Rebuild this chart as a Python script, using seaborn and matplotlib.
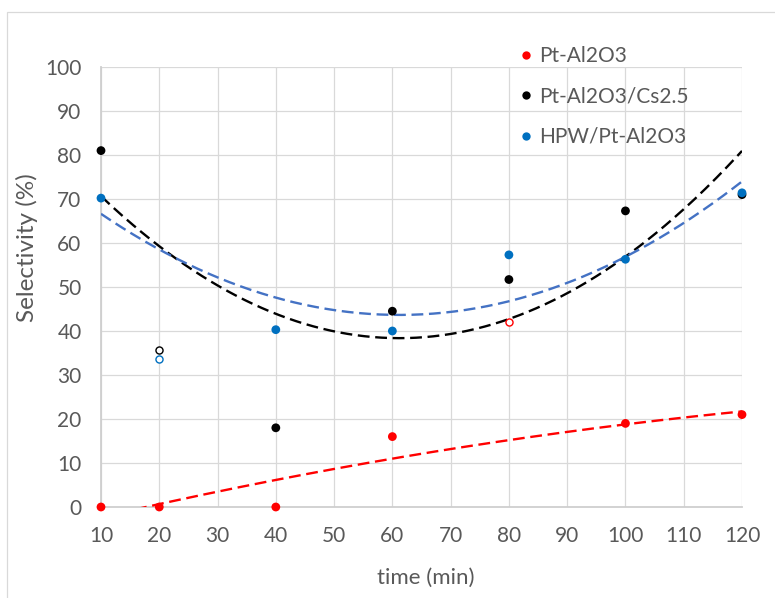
import numpy as np
import pandas as pd
import matplotlib
matplotlib.use("Agg")
import matplotlib.pyplot as plt
from matplotlib.lines import Line2D
from matplotlib.patches import Rectangle
import seaborn as sns

# ---- data -------------------------------------------------------------
series_names = ["Pt-Al2O3", "Pt-Al2O3/Cs2.5", "HPW/Pt-Al2O3"]
time_min = [10, 20, 40, 60, 80, 100, 120]

sel_pt = [0, 0, 0, 16, 42.1, 19, 21]
sel_pt_cs = [81, 35.7, 18, 44.5, 51.7, 67.3, 71]
sel_hpw = [70.2, 33.6, 40.3, 40, 57.3, 56.3, 71.4]

# points left out of the trend fit (drawn hollow)
excluded_pt = [80]
excluded_pt_cs = [20]
excluded_hpw = [20]

marker_colors = ["#FF0000", "#000000", "#0070C0"]
trend_colors = ["#FF0000", "#000000", "#4472C4"]

x_ticks = list(range(10, 121, 10))
y_ticks = list(range(0, 101, 10))

# ---- tidy table -------------------------------------------------------
rows = []
for name, vals, excl in zip(series_names,
                            [sel_pt, sel_pt_cs, sel_hpw],
                            [excluded_pt, excluded_pt_cs, excluded_hpw]):
    for t, v in zip(time_min, vals):
        rows.append({"time": t, "sel": v, "series": name,
                     "used": t not in excl})
df = pd.DataFrame(rows)

# second-order polynomial trend lines through the used points
trend_rows = []
xs = np.linspace(10, 120, 300)
for name in series_names:
    sub = df[(df.series == name) & df.used]
    coef = np.polyfit(sub.time, sub.sel, 2)
    for xv, yv in zip(xs, np.polyval(coef, xs)):
        trend_rows.append({"time": xv, "sel": yv, "series": name})
trend = pd.DataFrame(trend_rows)

# ---- figure -----------------------------------------------------------
sns.set_theme(style="white")
plt.rcParams["font.family"] = ["Lato", "DejaVu Sans"]
text_color = "#595959"

fig = plt.figure(figsize=(7.75, 5.98), dpi=100)
ax = fig.add_axes([101 / 775, 1 - 507 / 598, 641 / 775, 440 / 598])

# chart border
fig.patches.append(Rectangle((7 / 775, -0.1), 2.0, 1 - 12 / 598 + 0.1,
                             transform=fig.transFigure, fill=False,
                             edgecolor="#D9D9D9", lw=0.9, zorder=0))

for name, col in zip(series_names, trend_colors):
    sns.lineplot(data=trend[trend.series == name], x="time", y="sel",
                 color=col, lw=1.7, dashes=(5, 2.4), ax=ax,
                 legend=False, zorder=3)

solid = df[df.used]
sns.scatterplot(data=solid, x="time", y="sel", hue="series",
                hue_order=series_names, palette=marker_colors,
                s=40, edgecolor="none", linewidth=0, ax=ax,
                clip_on=False, zorder=4, legend=False)

hollow = df[~df.used]
for name, col in zip(series_names, marker_colors):
    h = hollow[hollow.series == name]
    ax.scatter(h.time, h.sel, s=26, facecolors="white", edgecolors=col,
               linewidths=1.0, clip_on=False, zorder=4)

ax.set_xlim(10, 120)
ax.set_ylim(0, 100)
ax.set_xticks(x_ticks)
ax.set_yticks(y_ticks)
ax.grid(True, color="#D9D9D9", lw=0.9)
ax.set_axisbelow(True)
for side, sp in ax.spines.items():
    sp.set_visible(side in ("left", "bottom"))
    sp.set_color("#CFCFCF")
    sp.set_linewidth(1.3)

ax.tick_params(axis="both", length=0, labelsize=15, colors=text_color)
ax.tick_params(axis="x", pad=14)
ax.tick_params(axis="y", pad=14)

ax.set_xlabel("time (min)", fontsize=16, color=text_color)
ax.set_ylabel("Selectivity (%)", fontsize=17.5, color=text_color)
ax.xaxis.set_label_coords(0.507, -0.139)
ax.yaxis.set_label_coords(-0.098, 0.59)

handles = [Line2D([], [], ls="none", marker="o", markersize=6,
                  markerfacecolor=c, markeredgecolor="none")
           for c in marker_colors]
fig.legend(handles, series_names, loc="upper left",
           bbox_to_anchor=(505 / 775, 1 - 36 / 598), frameon=False,
           fontsize=15, labelcolor=text_color, handlelength=1.0,
           handletextpad=0.15, labelspacing=0.97, borderpad=0)

fig.savefig("out.png", dpi=100)
